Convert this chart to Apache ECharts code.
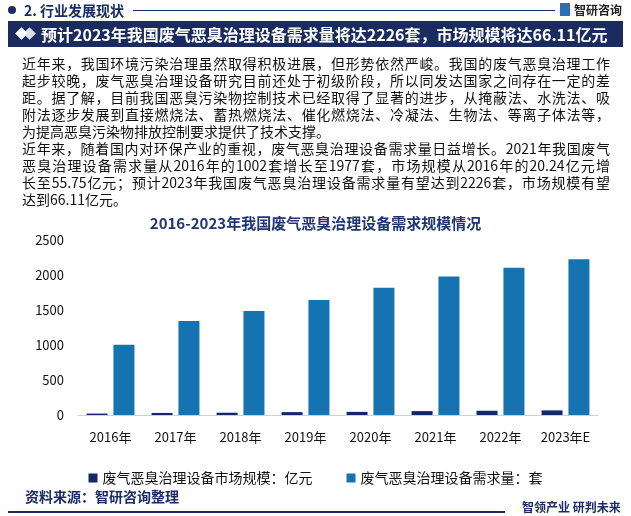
<!DOCTYPE html>
<html><head><meta charset="utf-8">
<script src="https://cdn.jsdelivr.net/npm/echarts@6/dist/echarts.min.js"></script>
<style>
html,body{margin:0;padding:0;background:#fff;}
body{width:631px;height:516px;position:relative;overflow:hidden;font-family:"Noto Sans CJK SC","Noto Sans",sans-serif;}
#chart{position:absolute;left:0;top:0;width:631px;height:516px;}
.abs{position:absolute;white-space:nowrap;}
#para{position:absolute;left:22px;top:55px;width:588px;font-size:14px;line-height:17px;color:#111;}
#para div{text-align:justify;text-align-last:justify;height:17px;white-space:nowrap;}
#para div.last{text-align-last:left;}
</style></head>
<body>
<div id="chart"></div>
<div class="abs" style="left:8px;top:6px;width:8px;height:8px;border-radius:50%;background:#1a2d63;"></div>
<div class="abs" style="left:24px;top:0px;font-size:14px;font-weight:bold;color:#1a2d63;line-height:20px;">2. 行业发展现状</div>
<div class="abs" style="left:133px;top:10px;width:422px;height:1px;background:#1a2d63;"></div>
<div class="abs" style="left:560px;top:3px;width:10px;height:13px;background:#2a6fb5;"></div>
<div class="abs" style="left:574px;top:0px;font-size:12px;font-weight:bold;color:#222;line-height:20px;">智研咨询</div>
<div class="abs" style="left:8px;top:21px;width:615px;height:26px;background:#1a2b5f;"></div>
<div class="abs" style="left:17px;top:29px;width:9px;height:9px;background:#fff;transform:rotate(45deg);"></div>
<div class="abs" style="left:25px;top:29px;width:9px;height:9px;background:#fff;transform:rotate(45deg);opacity:0.85;"></div>
<div class="abs" style="left:41px;top:21px;font-size:16px;font-weight:bold;color:#fff;line-height:26px;">预计2023年我国废气恶臭治理设备需求量将达2226套，市场规模将达66.11亿元</div>
<div id="para"></div>
<div class="abs" style="left:25px;top:486px;font-size:14px;font-weight:bold;color:#1a2d63;line-height:20px;">资料来源：智研咨询整理</div>
<div class="abs" style="left:8px;top:511px;width:497px;height:2px;background:#1a2d63;"></div>
<div class="abs" style="left:522px;top:498px;font-size:12px;font-weight:bold;color:#1a2d63;line-height:18px;">智领产业 研判未来</div>
<script>
const paraLines = [
  "近年来，我国环境污染治理虽然取得积极进展，但形势依然严峻。我国的废气恶臭治理工作",
  "起步较晚，废气恶臭治理设备研究目前还处于初级阶段，所以同发达国家之间存在一定的差",
  "距。据了解，目前我国恶臭污染物控制技术已经取得了显著的进步，从掩蔽法、水洗法、吸",
  "附法逐步发展到直接燃烧法、蓄热燃烧法、催化燃烧法、冷凝法、生物法、等离子体法等，",
  "为提高恶臭污染物排放控制要求提供了技术支撑。",
  "近年来，随着国内对环保产业的重视，废气恶臭治理设备需求量日益增长。2021年我国废气",
  "恶臭治理设备需求量从2016年的1002套增长至1977套，市场规模从2016年的20.24亿元增",
  "长至55.75亿元；预计2023年我国废气恶臭治理设备需求量有望达到2226套，市场规模有望",
  "达到66.11亿元。"
];
const lastLines = [4, 8];
const para = document.getElementById('para');
paraLines.forEach((t, i) => {
  const d = document.createElement('div');
  d.textContent = t;
  if (lastLines.includes(i)) d.className = 'last';
  para.appendChild(d);
});

const chartTitle = "2016-2023年我国废气恶臭治理设备需求规模情况";
const categories = ["2016年","2017年","2018年","2019年","2020年","2021年","2022年","2023年E"];
const marketSizeName = "废气恶臭治理设备市场规模：亿元";
const demandName = "废气恶臭治理设备需求量：套";
const marketSize = [20.24, 29.5, 32.4, 41.2, 44.6, 55.75, 60.5, 66.11];
const demand = [1002, 1343, 1486, 1643, 1819, 1977, 2104, 2226];
const yTicks = {min: 0, max: 2500, interval: 500};

const chart = echarts.init(document.getElementById('chart'), null, {renderer: 'canvas'});
chart.setOption({
  backgroundColor: 'transparent',
  animation: false,
  textStyle: {fontFamily: '"Noto Sans CJK SC", sans-serif'},
  title: {
    text: chartTitle, left: 'center', top: 211,
    textStyle: {fontSize: 15, fontWeight: 'bold', color: '#1f3674'}
  },
  legend: {
    top: 466, left: 'center', itemWidth: 9, itemHeight: 9, itemGap: 34,
    icon: 'rect',
    textStyle: {fontSize: 14, color: '#111'},
    data: [marketSizeName, demandName]
  },
  grid: {left: 78, right: 33, top: 240, bottom: 101, containLabel: false},
  xAxis: {
    type: 'category', data: categories,
    axisLine: {lineStyle: {color: '#d0d0d0', width: 1}},
    axisTick: {show: false},
    axisLabel: {fontSize: 13, color: '#111', margin: 16}
  },
  yAxis: {
    type: 'value', min: yTicks.min, max: yTicks.max, interval: yTicks.interval,
    axisLine: {show: false}, axisTick: {show: false}, splitLine: {show: false},
    axisLabel: {fontSize: 13, color: '#111', margin: 14, formatter: v => String(v)}
  },
  series: [
    {name: marketSizeName, type: 'bar', data: marketSize, barWidth: 21, barGap: '28%',
     itemStyle: {color: '#13286b'}},
    {name: demandName, type: 'bar', data: demand, barWidth: 21,
     itemStyle: {color: '#1473b0'}}
  ]
});
</script>
</body></html>
